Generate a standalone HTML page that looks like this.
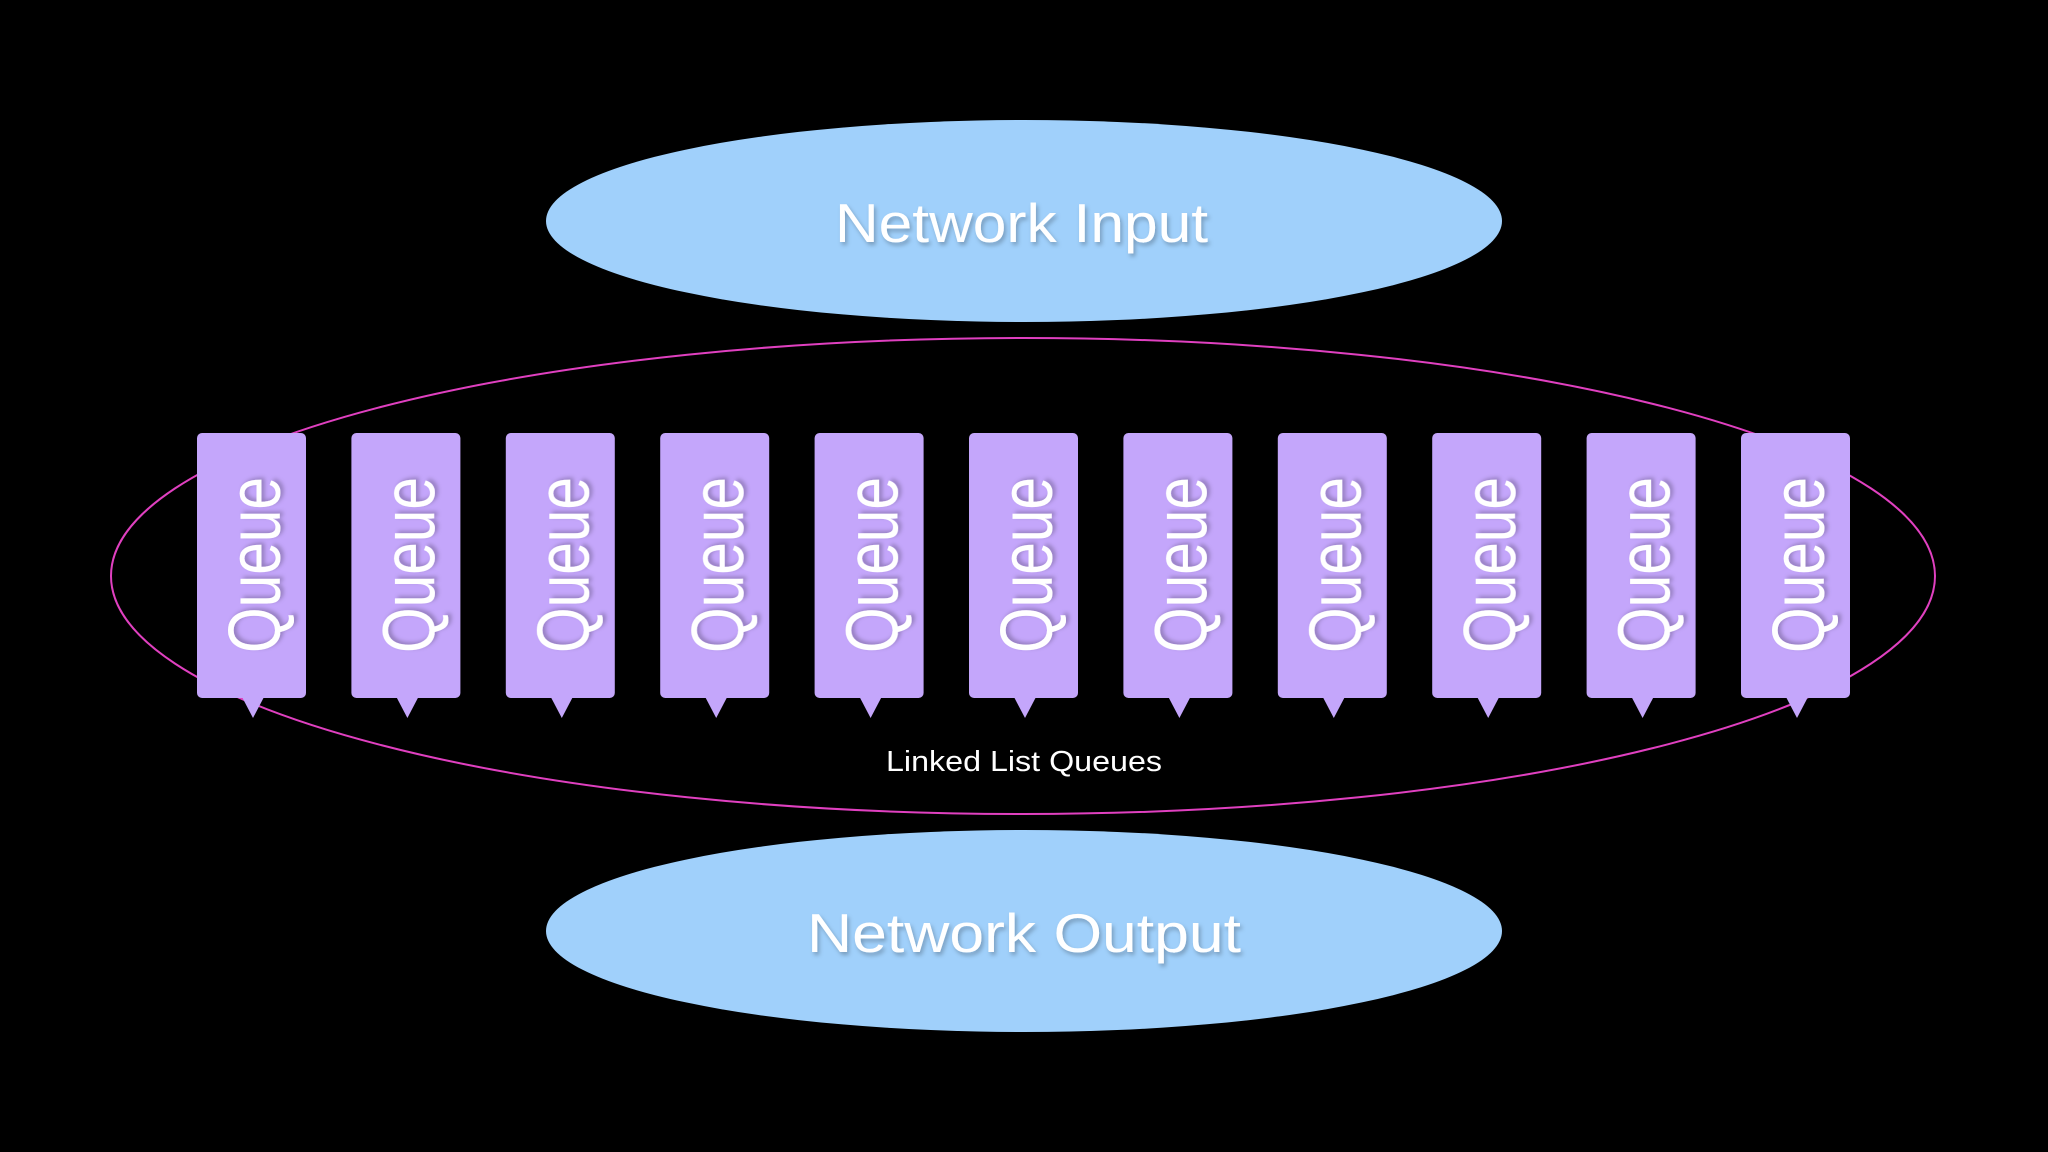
<!DOCTYPE html>
<html><head><style>html,body{margin:0;padding:0;background:#000;}svg{display:block;}</style></head>
<body>
<svg width="2048" height="1152" viewBox="0 0 2048 1152" xmlns="http://www.w3.org/2000/svg">
<defs><filter id="sh" x="-10%" y="-10%" width="120%" height="130%"><feDropShadow dx="2" dy="3" stdDeviation="2" flood-color="#000" flood-opacity="0.25"/></filter></defs>
<rect width="2048" height="1152" fill="#000"/>
<ellipse cx="1024" cy="221" rx="478" ry="101" fill="#a0d0fb"/>
<text x="835" y="242" textLength="373" lengthAdjust="spacingAndGlyphs" font-family="Liberation Sans, sans-serif" font-size="55" fill="#fff" filter="url(#sh)">Network Input</text>
<ellipse cx="1024" cy="931" rx="478" ry="101" fill="#a0d0fb"/>
<text x="807" y="952" textLength="434" lengthAdjust="spacingAndGlyphs" font-family="Liberation Sans, sans-serif" font-size="55" fill="#fff" filter="url(#sh)">Network Output</text>
<ellipse cx="1023" cy="576" rx="912" ry="238" fill="none" stroke="#e040c0" stroke-width="2"/>
<text x="1024" y="771" text-anchor="middle" textLength="276" lengthAdjust="spacingAndGlyphs" font-family="Liberation Sans, sans-serif" font-size="29" fill="#fff">Linked List Queues</text>
<g id="q">
<rect x="197" y="433" width="109" height="265" rx="5" fill="#c4a6fb"/>
<polygon points="242,697 264,697 253,718" fill="#c4a6fb"/>
<text transform="translate(280,565) rotate(-90)" text-anchor="middle" textLength="176" lengthAdjust="spacingAndGlyphs" font-family="Liberation Sans, sans-serif" font-size="74" fill="#fff" filter="url(#sh)">Queue</text>
</g>
<use href="#q" x="154.4"/>
<use href="#q" x="308.8"/>
<use href="#q" x="463.2"/>
<use href="#q" x="617.6"/>
<use href="#q" x="772"/>
<use href="#q" x="926.4"/>
<use href="#q" x="1080.8"/>
<use href="#q" x="1235.2"/>
<use href="#q" x="1389.6"/>
<use href="#q" x="1544"/>
</svg>
</body></html>
